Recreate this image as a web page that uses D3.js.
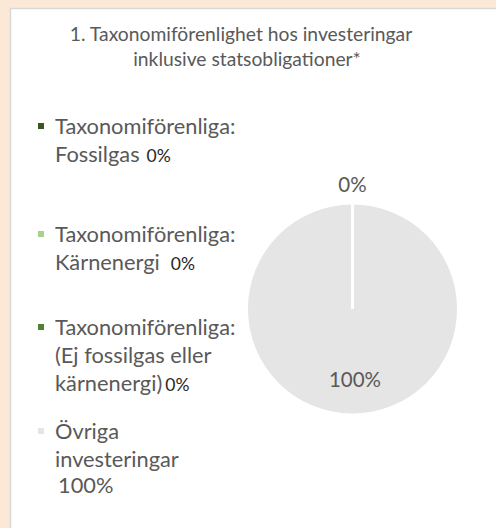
<!DOCTYPE html>
<html>
<head>
<meta charset="utf-8">
<script src="https://cdn.jsdelivr.net/npm/d3@7"></script>
<style>
  html, body { margin: 0; padding: 0; background: #fbe8d6; }
  svg { display: block; }
</style>
</head>
<body>
<svg id="chart" width="496" height="528"></svg>
<script>
// ---- data ----
const titleLines = ["1. Taxonomiförenlighet hos investeringar", "inklusive statsobligationer*"];
const categories = [
  "Taxonomiförenliga: Fossilgas",
  "Taxonomiförenliga: Kärnenergi",
  "Taxonomiförenliga: (Ej fossilgas eller kärnenergi)",
  "Övriga investeringar"
];
const legendLines = [
  ["Taxonomiförenliga:", "Fossilgas"],
  ["Taxonomiförenliga:", "Kärnenergi"],
  ["Taxonomiförenliga:", "(Ej fossilgas eller", "kärnenergi)"],
  ["Övriga", "investeringar"]
];
const values = [0, 0, 0, 100];
const valueLabels = ["0%", "0%", "0%", "100%"];
const colors = ["#385723", "#a9d18e", "#548235", "#e5e5e5"];

// ---- drawing ----
const svg = d3.select("#chart");
const font = "Lato, 'Open Sans', sans-serif";
const grey = "#595959";

// panel
svg.append("rect").attr("x", 10.5).attr("y", 8.5).attr("width", 500).attr("height", 540)
  .attr("fill", "#ffffff").attr("stroke", "#d9d9d9").attr("stroke-width", 1.5);

// title
svg.append("g").selectAll("text").data(titleLines).join("text")
  .attr("x", (d, i) => i === 0 ? 241 : 247)
  .attr("y", (d, i) => 41 + i * 25)
  .attr("text-anchor", "middle")
  .attr("font-family", font).attr("font-size", 19.3).attr("fill", grey)
  .text(d => d);

// legend
const legendTop = [127, 235, 328, 432];
const lineH = 28;
const fs = 21.8;
const lg = svg.append("g");
legendLines.forEach((lines, i) => {
  const g = lg.append("g");
  g.append("rect").attr("x", 38).attr("y", legendTop[i] - 4).attr("width", 6).attr("height", 6)
    .attr("fill", colors[i]);
  lines.forEach((ln, j) => {
    const t = g.append("text")
      .attr("x", 55).attr("y", legendTop[i] + 7 + j * lineH)
      .attr("font-family", font).attr("font-size", fs).attr("fill", grey)
      .text(ln);
    if (j === lines.length - 1 && i < 3) {
      t.append("tspan").attr("dx", i === 0 ? 7 : (i === 1 ? 11 : 3))
        .attr("font-size", 17.5).attr("fill", "#262626")
        .text(valueLabels[i]);
    }
  });
  if (i === 3) {
    g.append("text")
      .attr("x", 58).attr("y", legendTop[i] + 7 + lines.length * lineH - 2)
      .attr("font-family", font).attr("font-size", fs).attr("fill", grey)
      .text(valueLabels[i]);
  }
});

// pie
const cx = 352.5, cy = 309, r = 104.5;
const pie = d3.pie().sort(null).value(d => d.v);
const arcs = pie(values.map((v, i) => ({ v, i })));
const arc = d3.arc().innerRadius(0).outerRadius(r);
const pg = svg.append("g").attr("transform", `translate(${cx},${cy})`);
// big slice first, zero slices on top so their white edges show
const order = arcs.slice().sort((a, b) => b.value - a.value);
pg.selectAll("path").data(order).join("path")
  .attr("d", arc)
  .attr("fill", d => colors[d.data.i])
  .attr("stroke", "#ffffff")
  .attr("stroke-width", d => d.value > 0 ? 0 : 3)
  .attr("stroke-linecap", "round");

// pie labels
const pieLabels = [
  { text: valueLabels[0], x: 0, y: -124 },
  { text: valueLabels[3], x: 2.5, y: 71 }
];
pg.selectAll("text").data(pieLabels).join("text")
  .attr("x", d => d.x).attr("y", d => d.y + 7)
  .attr("text-anchor", "middle")
  .attr("font-family", font).attr("font-size", 20.5).attr("fill", grey)
  .text(d => d.text);
</script>
</body>
</html>
